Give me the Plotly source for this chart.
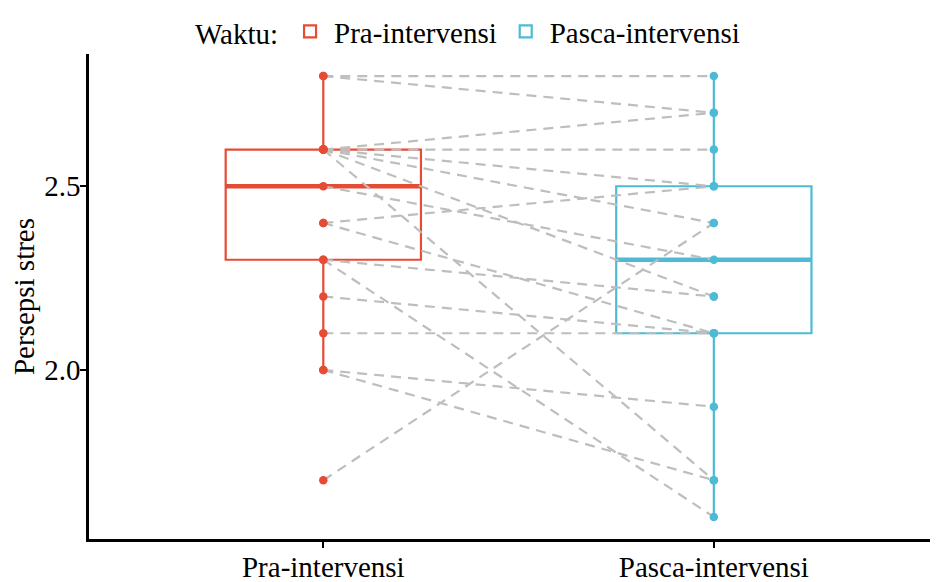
import plotly.graph_objects as go

# ---- data ----
categories = ["Pra-intervensi", "Pasca-intervensi"]
pra = [2.8, 2.8, 2.6, 2.6, 2.6, 2.6, 2.6, 2.6, 2.5, 2.4, 2.4, 2.3, 2.3, 2.2, 2.1, 2.0, 2.0, 1.7]
pasca = [2.8, 2.7, 2.7, 2.6, 2.5, 2.4, 2.2, 1.7, 2.3, 2.5, 2.1, 2.2, 1.6, 2.1, 2.1, 1.9, 1.7, 2.4]

# box statistics as drawn in the picture
box_q1 = [2.3, 2.1]
box_median = [2.5, 2.3]
box_q3 = [2.6, 2.5]
box_low = [2.0, 1.6]
box_high = [2.8, 2.8]

y_ticks = [2.0, 2.5]
y_ticktext = ["2.0", "2.5"]

colors = ["#E64B35", "#4DBBD5"]
FONT = "Liberation Serif"
BOX_W = 0.5

fig = go.Figure()

# boxes
for i, cat in enumerate(categories):
    fig.add_trace(go.Box(
        x=[i], q1=[box_q1[i]], median=[box_median[i]], q3=[box_q3[i]],
        lowerfence=[box_low[i]], upperfence=[box_high[i]],
        width=BOX_W, whiskerwidth=0, boxpoints=False,
        line=dict(color=colors[i], width=2.2), fillcolor="rgba(255,255,255,0)",
        name=cat, showlegend=True, hoverinfo="skip",
    ))

# thick median lines
for i, cat in enumerate(categories):
    fig.add_trace(go.Scatter(
        x=[i - BOX_W / 2, i + BOX_W / 2], y=[box_median[i], box_median[i]],
        mode="lines", line=dict(color=colors[i], width=4.5),
        showlegend=False, hoverinfo="skip",
    ))

# paired lines
lx, ly = [], []
for a, b in zip(pra, pasca):
    lx += [0, 1, None]
    ly += [a, b, None]
fig.add_trace(go.Scatter(
    x=lx, y=ly, mode="lines",
    line=dict(color="#BEBEBE", width=2.2, dash="10px,7px"),
    showlegend=False, hoverinfo="skip",
))

# points
for i, vals in enumerate([pra, pasca]):
    fig.add_trace(go.Scatter(
        x=[i] * len(vals), y=vals, mode="markers",
        marker=dict(color=colors[i], size=8.5),
        showlegend=False, hoverinfo="skip",
    ))

# the page body adds an 8px offset, so the figure is 8px smaller and margins shifted
fig.update_layout(
    width=930, height=574,
    margin=dict(l=81, r=0, t=46, b=43, autoexpand=False),
    paper_bgcolor="white", plot_bgcolor="white",
    font=dict(family=FONT, size=29, color="black"),
    showlegend=True,
    legend=dict(
        orientation="h", x=0.1225, xanchor="left", y=1.0 + 48 / 485, yanchor="top",
        title=dict(text="Waktu:", side="left", font=dict(family=FONT, size=29, color="black")),
        font=dict(family=FONT, size=29, color="black"), bgcolor="rgba(0,0,0,0)",
        itemwidth=38, tracegroupgap=0,
    ),
    xaxis=dict(
        range=[-0.6, 1.574], tickvals=[0, 1], ticktext=categories,
        showgrid=False, zeroline=False, showline=True, linecolor="black", linewidth=2.5,
        ticks="outside", ticklen=6, tickwidth=2, tickcolor="black",
        tickfont=dict(family=FONT, size=29, color="black"), automargin=False,
        ticklabelstandoff=-6,
    ),
    yaxis=dict(
        range=[1.54, 2.86], tickvals=y_ticks, ticktext=y_ticktext,
        showgrid=False, zeroline=False, showline=True, linecolor="black", linewidth=2.5,
        ticks="outside", ticklen=6, tickwidth=2, tickcolor="black",
        tickfont=dict(family=FONT, size=29, color="black"), automargin=False,
        ticklabelstandoff=-6,
        title=dict(text="Persepsi stres", font=dict(family=FONT, size=29, color="black"), standoff=5),
    ),
)

fig.write_html("out.html")
